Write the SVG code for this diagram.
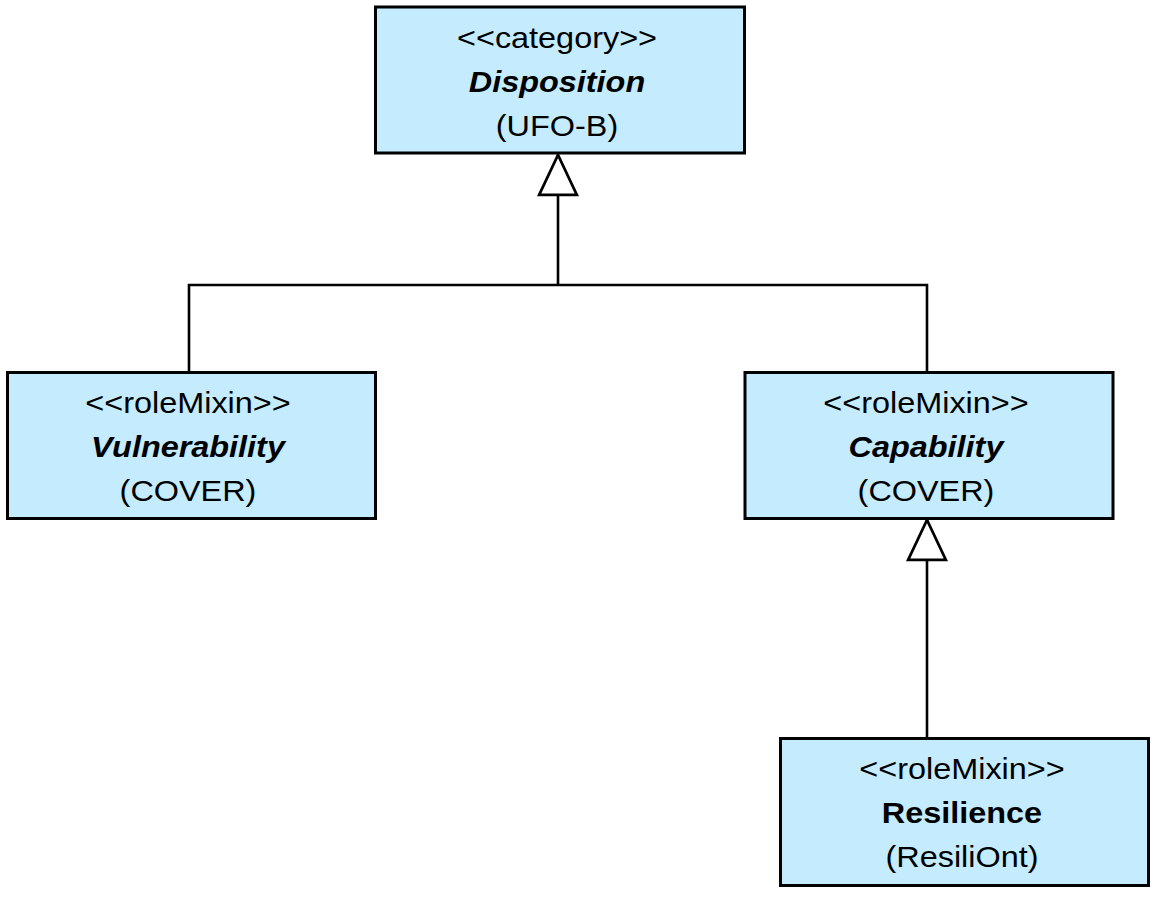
<svg xmlns="http://www.w3.org/2000/svg" width="1161" height="897" viewBox="0 0 1161 897">
<style>
.box{fill:#C4ECFE;stroke:#000;stroke-width:3}
.t{font-family:"Liberation Sans",Arial,sans-serif;font-size:30px;text-anchor:middle;fill:#000}
.bi{font-weight:bold;font-style:italic}
.b{font-weight:bold}
.conn{fill:none;stroke:#000;stroke-width:2.6}
</style>
<defs>
<marker id="gen" markerUnits="userSpaceOnUse" markerWidth="44" markerHeight="44" viewBox="-2 -21 42 42" refX="38" refY="0" orient="auto" overflow="visible">
<path d="M0,-18 L38,0 L0,18 Z" fill="#fff" stroke="#000" stroke-width="2.6" stroke-linejoin="miter"/>
</marker>
</defs>
<rect width="1161" height="897" fill="#fff"/>
<g id="connectors">
<path class="conn" d="M189,372 V285 H927 V372"/>
<path class="conn" d="M558,285 V155" marker-end="url(#gen)"/>
<path class="conn" d="M927,738 V520" marker-end="url(#gen)"/>
</g>
<g id="disposition">
<rect class="box" x="375.5" y="7" width="369" height="146"/>
<g transform="translate(557 0) scale(1.08 1)">
<text class="t" x="0" y="48">&lt;&lt;category&gt;&gt;</text>
<text class="t bi" x="0" y="92">Disposition</text>
<text class="t" x="0" y="136">(UFO-B)</text>
</g>
</g>
<g id="vulnerability">
<rect class="box" x="7.5" y="372.5" width="368" height="146"/>
<g transform="translate(188 0) scale(1.08 1)">
<text class="t" x="0" y="413">&lt;&lt;roleMixin&gt;&gt;</text>
<text class="t bi" x="0" y="457">Vulnerability</text>
<text class="t" x="0" y="501">(COVER)</text>
</g>
</g>
<g id="capability">
<rect class="box" x="745" y="372.5" width="368" height="146"/>
<g transform="translate(926 0) scale(1.08 1)">
<text class="t" x="0" y="413">&lt;&lt;roleMixin&gt;&gt;</text>
<text class="t bi" x="0" y="457">Capability</text>
<text class="t" x="0" y="501">(COVER)</text>
</g>
</g>
<g id="resilience">
<rect class="box" x="780.5" y="738.5" width="368" height="147"/>
<g transform="translate(962 0) scale(1.08 1)">
<text class="t" x="0" y="779">&lt;&lt;roleMixin&gt;&gt;</text>
<text class="t b" x="0" y="823">Resilience</text>
<text class="t" x="0" y="867">(ResiliOnt)</text>
</g>
</g>
</svg>
